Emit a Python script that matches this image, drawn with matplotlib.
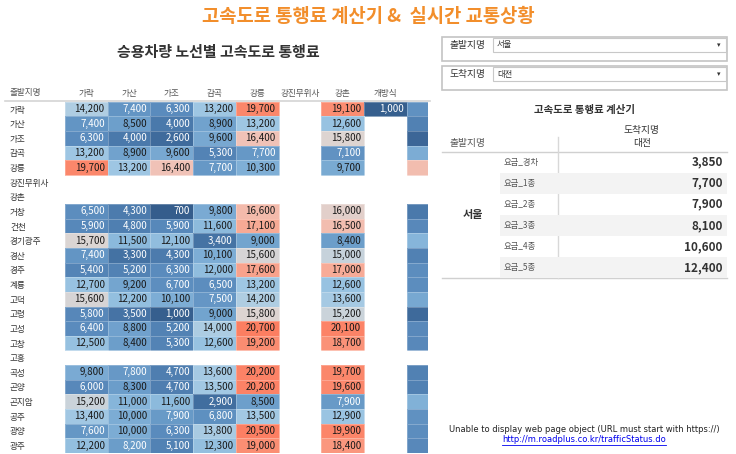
import numpy as np
import matplotlib as mpl
mpl.use('Agg')
import matplotlib.pyplot as plt
from matplotlib.colors import LinearSegmentedColormap, Normalize
from matplotlib.patches import Rectangle

plt.rcParams['font.family'] = ['Noto Sans CJK KR', 'DejaVu Sans']

# ---------------- data ----------------
col_names = ['가락', '가산', '가조', '감곡', '강릉', '강진무위사', '강촌', '개방식', '']
row_names = ['가락', '가산', '가조', '감곡', '강릉', '강진무위사', '강촌', '거창', '건천',
             '경기광주', '경산', '경주', '계룡', '고덕', '고령', '고성', '고창', '고흥',
             '곡성', '곤양', '곤지암', '공주', '광양', '광주']
nan = np.nan
fares = [
    [14200, 7400, 6300, 13200, 19700, nan, 19100, 1000, 7000],
    [7400, 8500, 4000, 8900, 13200, nan, 12600, nan, 5000],
    [6300, 4000, 2600, 9600, 16400, nan, 15800, nan, 2000],
    [13200, 8900, 9600, 5300, 7700, nan, 7100, nan, 10000],
    [19700, 13200, 16400, 7700, 10300, nan, 9700, nan, 16500],
    [nan] * 9,
    [nan] * 9,
    [6500, 4300, 700, 9800, 16600, nan, 16000, nan, 4000],
    [5900, 4800, 5900, 11600, 17100, nan, 16500, nan, 6000],
    [15700, 11500, 12100, 3400, 9000, nan, 8400, nan, 11000],
    [7400, 3300, 4300, 10100, 15600, nan, 15000, nan, 5000],
    [5400, 5200, 6300, 12000, 17600, nan, 17000, nan, 6500],
    [12700, 9200, 6700, 6500, 13200, nan, 12600, nan, 6500],
    [15600, 12200, 10100, 7500, 14200, nan, 13600, nan, 9500],
    [5800, 3500, 1000, 9000, 15800, nan, 15200, nan, 2500],
    [6400, 8800, 5200, 14000, 20700, nan, 20100, nan, 6000],
    [12500, 8400, 5300, 12600, 19200, nan, 18700, nan, 6000],
    [nan] * 9,
    [9800, 7800, 4700, 13600, 20200, nan, 19700, nan, 5000],
    [6000, 8300, 4700, 13500, 20200, nan, 19600, nan, 5000],
    [15200, 11000, 11600, 2900, 8500, nan, 7900, nan, 10500],
    [13400, 10000, 7900, 6800, 13500, nan, 12900, nan, 7000],
    [7600, 10000, 6300, 13800, 20500, nan, 19900, nan, 6500],
    [12200, 8200, 5100, 12300, 19000, nan, 18400, nan, 6000],
]
n_shown = 8  # last column is cut off by the dashboard edge

calc_from = '서울'
calc_to = '대전'
calc_types = ['요금_경차', '요금_1종', '요금_2종', '요금_3종', '요금_4종', '요금_5종']
calc_fares = [3850, 7700, 7900, 8100, 10600, 12400]

# ---------------- style ----------------
W, H = 736, 454
c_title = '#f28e2b'
c_text = '#333333'
c_grey = '#555555'

cmap_nodes = [(700, '#355d8c'), (2600, '#3f6b9c'), (4000, '#4a79ab'), (6300, '#5a8bbd'),
              (8500, '#6d9fcb'), (11000, '#86b5da'), (13200, '#9dc6e3'), (14200, '#afcde2'),
              (15200, '#cad3da'), (15800, '#dcd5d3'), (16400, '#f0c2b6'), (17000, '#f7ab97'),
              (19100, '#fb8d72'), (20700, '#fc7e61')]
vmin, vmax = 700, 20700
pal = LinearSegmentedColormap.from_list(
    'tbl', [((v - vmin) / (vmax - vmin), c) for v, c in cmap_nodes])
norm = Normalize(vmin=vmin, vmax=vmax)


def fr(x0, y0, x1, y1):
    # pixel box (top-left origin) -> figure fraction
    return [x0 / W, 1 - y1 / H, (x1 - x0) / W, (y1 - y0) / H]


fig = plt.figure(figsize=(W / 100, H / 100), dpi=100, facecolor='white')

bg = fig.add_axes([0, 0, 1, 1])
bg.set_xlim(0, W)
bg.set_ylim(H, 0)
bg.axis('off')

# titles
bg.text(368, 17, '고속도로 통행료 계산기 &  실시간 교통상황', color=c_title,
        fontsize=13.5, fontweight='bold', ha='center', va='center')
bg.text(218, 52, '승용차량 노선별 고속도로 통행료', color='#333333',
        fontsize=10.8, fontweight='bold', ha='center', va='center')

# ---------------- heatmap ----------------
vals = np.ma.masked_invalid(np.array(fares, dtype=float))
nr, nc = vals.shape
hm = fig.add_axes(fr(65, 101.7, 65 + 44 * 8.25, 452.8))
hm.pcolormesh(vals, cmap=pal, norm=norm, edgecolors=(1, 1, 1, 0.25), linewidth=0.4)
hm.set_xlim(0, 8.25)
hm.set_ylim(nr, 0)
for s in hm.spines.values():
    s.set_visible(False)
hm.xaxis.tick_top()
hm.set_xticks(np.arange(nc) + 0.5)
hm.set_xticklabels(col_names, fontsize=6.2, color=c_grey)
hm.tick_params(axis='x', length=0, pad=2.5)
hm.set_yticks(np.arange(nr) + 0.5)
hm.set_yticklabels(row_names, fontsize=6.2, color=c_text, ha='left')
hm.tick_params(axis='y', length=0, pad=55 * 0.72)

for i in range(nr):
    for j in range(n_shown):
        v = fares[i][j]
        if np.isnan(v):
            continue
        tc = 'white' if v < 8250 else '#1a1a1a'
        hm.text(j + 1 - 0.07, i + 0.5, f'{v:,.0f}', ha='right', va='center',
                fontsize=7, color=tc)

bg.text(10, 92, '출발지명', fontsize=6.2, color=c_grey, va='center')
bg.plot([5, 430], [100.8, 100.8], color='#d4d4d4', lw=1.2)

# ---------------- filter boxes ----------------
for y0, lab, val in [(37, '출발지명', calc_from), (66, '도착지명', calc_to)]:
    bg.add_patch(Rectangle((441.7, y0), 285, 24, fill=False, ec='#c4c4c4', lw=1.2))
    bg.add_patch(Rectangle((492.7, y0 + 0.5), 233.5, 14.5, fc='white', ec='#c8c8c8', lw=0.8))
    bg.text(450, y0 + 8, lab, fontsize=7, color=c_text, va='center')
    bg.text(497, y0 + 8, val, fontsize=6, color=c_text, va='center')
    bg.text(719, y0 + 8, '▾', fontsize=5, color=c_text, va='center', ha='center',
            family='DejaVu Sans')

# ---------------- calculator table ----------------
bg.text(585, 109.5, '고속도로 통행료 계산기', fontsize=7.5, fontweight='bold',
        color=c_text, ha='center', va='center')
bg.text(642, 130, '도착지명', fontsize=7, color=c_text, ha='center', va='center')
bg.text(642, 143.3, calc_to, fontsize=7, color=c_text, ha='center', va='center')
bg.text(468, 143.3, '출발지명', fontsize=7, color=c_grey, ha='center', va='center')

x0c, x1c = 441.7, 726.7
cc = fig.add_axes(fr(x0c, 151.7, x1c, 278))
cc.set_xlim(x0c, x1c)
cc.set_ylim(len(calc_types), 0)
cc.axis('off')
for i, (t, v) in enumerate(zip(calc_types, calc_fares)):
    if i % 2 == 1:
        cc.axhspan(i, i + 1, xmin=(500 - x0c) / (x1c - x0c), xmax=1, color='#f3f3f3', lw=0)
    cc.text(504, i + 0.5, t, fontsize=6, color=c_grey, va='center')
    cc.text(722.7, i + 0.5, f'{v:,}', fontsize=8.5, fontweight='bold', color=c_text,
            ha='right', va='center')
cc.text(473, len(calc_types) / 2, calc_from, fontsize=8, fontweight='bold',
        color=c_text, ha='center', va='center')
bg.plot([x0c, x1c], [151.7, 151.7], color='#d0d0d0', lw=1)
bg.plot([x0c, x1c], [278, 278], color='#d0d0d0', lw=1)
bg.plot([558.3, 558.3], [136.7, 278], color='#d8d8d8', lw=1)

# ---------------- web object message ----------------
bg.text(584, 429, 'Unable to display web page object (URL must start with https://)',
        fontsize=6, color='#222222', ha='center', va='center', family='DejaVu Sans')
lnk = bg.text(584, 439.5, 'http://m.roadplus.co.kr/trafficStatus.do', fontsize=6,
              color='#0000ee', ha='center', va='center', family='DejaVu Sans')
fig.canvas.draw()
bb = lnk.get_window_extent()
bg.plot([bb.x0, bb.x1], [444.5, 444.5], color='#0000ee', lw=0.6)

plt.savefig('out.png', dpi=100, facecolor='white')
plt.close(fig)
